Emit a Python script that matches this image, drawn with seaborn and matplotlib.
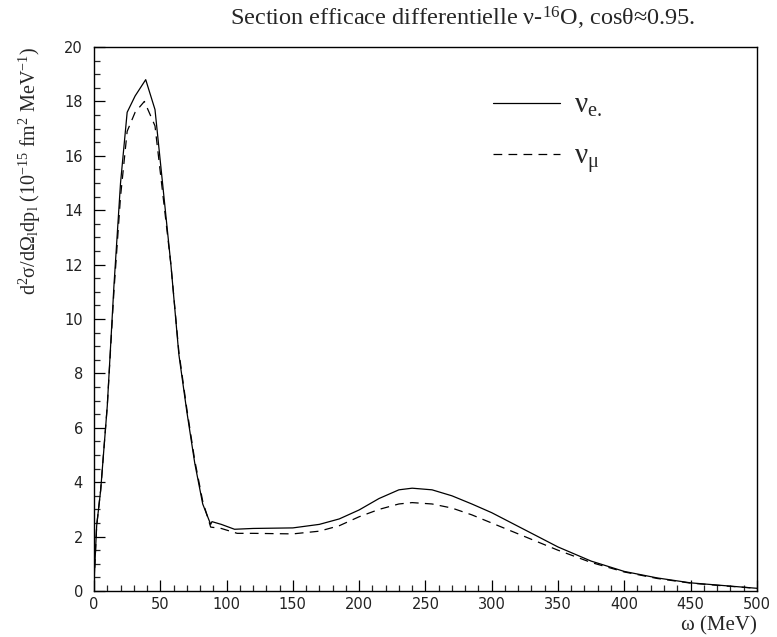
import matplotlib
matplotlib.use("Agg")
import matplotlib.pyplot as plt
import matplotlib.ticker as mticker
import numpy as np
import pandas as pd
import seaborn as sns

# ---------------------------------------------------------------------------
# Data (omega in MeV, cross section in 1e-15 fm^2/MeV)
# ---------------------------------------------------------------------------
OMEGA_E = [0, 2, 5, 10, 15, 20, 25, 31, 39, 46, 58, 64, 70, 76, 82, 88, 89,
           96, 106, 120, 150, 170, 185, 200, 215, 230, 240, 255, 270, 285,
           300, 325, 350, 375, 400, 425, 450, 475, 500]
SIGMA_E = [0.3, 2.4, 3.7, 6.8, 11.2, 15.0, 17.6, 18.2, 18.8, 17.7, 12.0, 8.7,
           6.6, 4.7, 3.2, 2.45, 2.55, 2.45, 2.27, 2.3, 2.32, 2.45, 2.65, 2.98,
           3.4, 3.72, 3.78, 3.72, 3.5, 3.2, 2.88, 2.25, 1.62, 1.1, 0.72, 0.48,
           0.3, 0.2, 0.1]

OMEGA_MU = [0, 2, 5, 10, 15, 20, 25, 31, 38, 46, 58, 64, 70, 76, 82, 88, 96,
            108, 120, 150, 170, 185, 200, 215, 230, 240, 255, 270, 285, 300,
            325, 350, 375, 400, 425, 450, 475, 500]
SIGMA_MU = [0.3, 2.4, 3.7, 6.8, 11.0, 14.5, 16.9, 17.6, 18.0, 17.1, 12.0, 8.8,
            6.7, 4.8, 3.3, 2.35, 2.3, 2.12, 2.12, 2.1, 2.2, 2.4, 2.73, 3.0,
            3.2, 3.25, 3.2, 3.05, 2.8, 2.5, 2.0, 1.5, 1.05, 0.7, 0.46, 0.29,
            0.19, 0.1]

LABEL_E = "ν$_{\\mathrm{e.}}$"
LABEL_MU = "ν$_{\\mathrm{μ}}$"

df = pd.concat([
    pd.DataFrame({"omega": OMEGA_E, "sigma": SIGMA_E, "flavour": LABEL_E}),
    pd.DataFrame({"omega": OMEGA_MU, "sigma": SIGMA_MU, "flavour": LABEL_MU}),
], ignore_index=True)

# ---------------------------------------------------------------------------
# Style
# ---------------------------------------------------------------------------
sns.set_theme(style="white")
plt.rcParams.update({
    "font.family": ["DejaVu Sans"],
    "mathtext.fontset": "custom",
    "mathtext.rm": "Liberation Serif",
    "mathtext.it": "Liberation Serif",
    "mathtext.bf": "Liberation Serif:bold",
    "xtick.direction": "in",
    "ytick.direction": "in",
    "axes.edgecolor": "black",
    "axes.linewidth": 1.0,
})
SERIF = "Liberation Serif"

fig = plt.figure(figsize=(7.77, 6.37), dpi=100)
ax = fig.add_axes([0.121, 0.0722, 0.853, 0.854])

sns.lineplot(
    data=df, x="omega", y="sigma",
    hue="flavour", style="flavour",
    hue_order=[LABEL_E, LABEL_MU], style_order=[LABEL_E, LABEL_MU],
    palette=["black", "black"],
    dashes={LABEL_E: "", LABEL_MU: (7, 5)},
    sort=False, estimator=None, linewidth=0.9,
    ax=ax,
)

ax.set_xlim(0, 500)
ax.set_ylim(0, 20)
ax.xaxis.set_major_locator(mticker.MultipleLocator(50))
ax.xaxis.set_minor_locator(mticker.MultipleLocator(10))
ax.yaxis.set_major_locator(mticker.MultipleLocator(2))
ax.yaxis.set_minor_locator(mticker.MultipleLocator(0.5))
ax.tick_params(which="major", length=8, width=0.9, labelsize=10.5,
               colors="black", pad=4, top=False, right=False,
               bottom=True, left=True)
ax.tick_params(which="minor", length=4.5, width=0.9, top=False, right=False,
               bottom=True, left=True)
ax.tick_params(axis="y", which="major", pad=8)
for lab in ax.get_xticklabels() + ax.get_yticklabels():
    lab.set_color("#222222")

ax.set_xlabel("")
ax.set_ylabel("d$^2$σ/dΩ$_{\\mathrm{l}}$dp$_{\\mathrm{l}}$ (10$^{-15}$ fm$^2$ MeV$^{-1}$)",
              family=SERIF, fontsize=14.5)
ax.yaxis.set_label_coords(-0.077, 0.772)
fig.text(0.974, 0.002, "ω (MeV)", ha="right", va="bottom",
         family=SERIF, fontsize=15)
fig.text(0.595, 0.950, "Section efficace differentielle ν-$^{16}$O, cosθ≈0.95.",
         ha="center", va="bottom", family=SERIF, fontsize=17.5)

handles, labels = ax.get_legend_handles_labels()
ax.legend(handles, labels, loc="upper left", bbox_to_anchor=(0.562, 0.965),
          frameon=False, prop={"family": SERIF, "size": 21},
          handlelength=2.3, labelspacing=0.85, handletextpad=0.5)

fig.savefig("out.png", dpi=100)
